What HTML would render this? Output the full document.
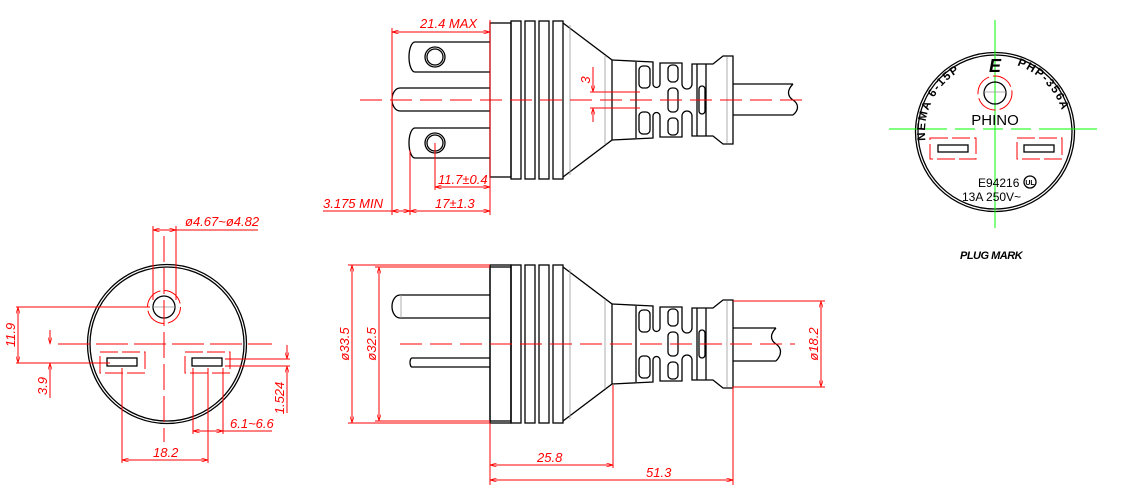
<!DOCTYPE html>
<html><head><meta charset="utf-8"><style>
html,body{margin:0;padding:0;background:#fff}
svg{display:block}
text{font-family:"Liberation Sans",sans-serif}
.r{stroke:#f00;fill:none;stroke-width:1}
.k{stroke:#000;fill:none;stroke-width:1.3}
.g{stroke:#999;stroke-width:0.8;fill:none}
.t{fill:#f00;font-size:13px;font-style:italic}
</style></head><body>
<svg width="1129" height="504" viewBox="0 0 1129 504" xmlns="http://www.w3.org/2000/svg">
<defs>
<marker id="a" viewBox="0 0 10 6" refX="10" refY="3" markerWidth="8" markerHeight="4" orient="auto-start-reverse"><path d="M0,0 L10,3 L0,6" fill="none" stroke="#f00"/></marker>
<g id="body">
 <rect x="490" y="23" width="21" height="154" class="k" fill="#fff"/>
 <rect x="511" y="21" width="10" height="158" class="k"/>
 <rect x="525" y="21" width="10" height="158" class="k"/>
 <rect x="539" y="21" width="10" height="158" class="k"/>
 <rect x="553" y="21" width="10" height="158" class="k"/>
 <path d="M563,23 L612,60 L612,140 L563,177" class="k"/>
 <line x1="570" y1="25" x2="570" y2="175" class="g"/>
 <line x1="605" y1="55" x2="605" y2="145" class="g"/>
 <path d="M612,60 L653,62 L653,84 A3.5,3.5 0 0 0 660,84 L660,63 L682,63 L682,84 A5,5 0 0 0 692,84 L692,64 L713,64 L723,56 L733,56 L733,144 L723,144 L713,136 L692,136 L692,116 A5,5 0 0 0 682,116 L682,137 L660,137 L660,116 A3.5,3.5 0 0 0 653,116 L653,138 L612,140" class="k"/>
 <line x1="636" y1="62" x2="636" y2="138" class="k"/>
 <rect x="639" y="66" width="11" height="22" rx="4" class="k"/>
 <rect x="639" y="112" width="11" height="22" rx="4" class="k"/>
 <rect x="668" y="65" width="10" height="17" rx="4" class="k"/>
 <rect x="668" y="88" width="10" height="24" rx="4" class="k"/>
 <rect x="668" y="118" width="10" height="17" rx="4" class="k"/>
 <line x1="697" y1="64" x2="697" y2="136" class="k"/>
 <line x1="706" y1="64" x2="706" y2="136" class="k"/>
 <rect x="699" y="86" width="6" height="28" rx="3" class="k"/>
 <line x1="727" y1="57" x2="727" y2="143" class="g"/>
</g>
</defs>

<!-- TOP SIDE VIEW -->
<use href="#body"/>
<path d="M490,42 L415,42 A6,15 0 0 0 415,72 L490,72" class="k"/>
<circle cx="435" cy="57" r="10" class="k"/><circle cx="435" cy="57" r="8" class="k"/>
<path d="M490,128 L415,128 A6,15 0 0 0 415,158 L490,158" class="k"/>
<circle cx="435" cy="143" r="10" class="k"/><circle cx="435" cy="143" r="8" class="k"/>
<path d="M490,88 L400,88 A8,11.5 0 0 0 400,111 L490,111" class="k"/>
<path d="M733,84 L793,84 M733,115 L793,115 M793,84 C787,90 787,96 793,100 C799,104 799,110 793,115" class="k"/>
<line x1="360" y1="100" x2="805" y2="100" class="r" stroke-dasharray="22,8"/>
<line x1="392" y1="28" x2="392" y2="215" class="r"/>
<line x1="490" y1="20" x2="490" y2="215" class="r"/>
<line x1="410" y1="150" x2="410" y2="215" class="r"/>
<line x1="392" y1="32" x2="490" y2="32" class="r" marker-start="url(#a)" marker-end="url(#a)"/>
<text x="420" y="28" class="t">21.4  MAX</text>
<line x1="323" y1="211" x2="392" y2="211" class="r"/>
<line x1="392" y1="211" x2="410" y2="211" class="r" marker-start="url(#a)" marker-end="url(#a)"/>
<line x1="410" y1="211" x2="490" y2="211" class="r" marker-start="url(#a)" marker-end="url(#a)"/>
<text x="323" y="208" class="t">3.175  MIN</text>
<text x="435" y="208" class="t">17±1.3</text>
<line x1="435" y1="143" x2="435" y2="190" class="r"/>
<line x1="435" y1="187" x2="490" y2="187" class="r" marker-start="url(#a)" marker-end="url(#a)"/>
<text x="438" y="184" class="t">11.7±0.4</text>
<line x1="593" y1="67" x2="593" y2="92" class="r" marker-end="url(#a)"/>
<line x1="593" y1="122" x2="593" y2="108" class="r" marker-end="url(#a)"/>
<line x1="590" y1="92" x2="640" y2="92" class="r"/>
<line x1="590" y1="108" x2="640" y2="108" class="r"/>
<text transform="translate(590,80) rotate(-90)" class="t" text-anchor="middle">3</text>

<!-- BOTTOM SIDE VIEW -->
<use href="#body" transform="translate(0,244)"/>
<rect x="490" y="265" width="21" height="158" class="k" fill="#fff"/>
<path d="M490,295 L400,295 A8,11.5 0 0 0 400,318 L490,318" class="k"/>
<line x1="401" y1="295" x2="401" y2="318" class="g"/>
<path d="M490,358 L412,358 A2,4.5 0 0 0 412,367 L490,367" class="k"/>
<path d="M733,328 L776,328 M733,361 L776,361 M776,328 C770,334 770,340 776,344 C782,348 782,355 776,361" class="k"/>
<line x1="400" y1="344" x2="795" y2="344" class="r" stroke-dasharray="22,8"/>
<line x1="348" y1="265" x2="490" y2="265" class="r"/>
<line x1="348" y1="423" x2="490" y2="423" class="r"/>
<line x1="375" y1="267" x2="490" y2="267" class="r"/>
<line x1="375" y1="421" x2="490" y2="421" class="r"/>
<line x1="352" y1="265" x2="352" y2="423" class="r" marker-start="url(#a)" marker-end="url(#a)"/>
<line x1="379" y1="267" x2="379" y2="421" class="r" marker-start="url(#a)" marker-end="url(#a)"/>
<text transform="translate(349,344) rotate(-90)" class="t" text-anchor="middle">ø33.5</text>
<text transform="translate(376,344) rotate(-90)" class="t" text-anchor="middle">ø32.5</text>
<line x1="490" y1="423" x2="490" y2="485" class="r"/>
<line x1="613" y1="385" x2="613" y2="468" class="r"/>
<line x1="733" y1="387" x2="733" y2="485" class="r"/>
<line x1="490" y1="465" x2="613" y2="465" class="r" marker-start="url(#a)" marker-end="url(#a)"/>
<line x1="490" y1="480" x2="733" y2="480" class="r" marker-start="url(#a)" marker-end="url(#a)"/>
<text x="537" y="462" class="t">25.8</text>
<text x="646" y="477" class="t">51.3</text>
<line x1="733" y1="301" x2="825" y2="301" class="r"/>
<line x1="733" y1="387" x2="825" y2="387" class="r"/>
<line x1="821" y1="301" x2="821" y2="387" class="r" marker-start="url(#a)" marker-end="url(#a)"/>
<text transform="translate(818,344) rotate(-90)" class="t" text-anchor="middle">ø18.2</text>

<!-- FRONT VIEW -->
<circle cx="167" cy="344" r="79.5" class="k"/>
<circle cx="167" cy="344" r="77" class="k"/>
<circle cx="164" cy="307" r="11" class="k"/>
<line x1="153" y1="307" x2="175" y2="307" class="g"/>
<circle cx="164" cy="307" r="16.5" class="r" stroke-dasharray="22,4"/>
<line x1="164" y1="236" x2="164" y2="442" class="r" stroke-dasharray="26,6"/>
<line x1="58" y1="344" x2="272" y2="344" class="r" stroke-dasharray="32,6"/>
<rect x="100" y="352" width="45" height="21" class="r" stroke-dasharray="18,4"/>
<rect x="107" y="358" width="30" height="8" class="k"/>
<rect x="185" y="352" width="45" height="21" class="r" stroke-dasharray="18,4"/>
<rect x="192" y="358" width="30" height="8" class="k"/>
<line x1="153" y1="226" x2="153" y2="300" class="r"/>
<line x1="176" y1="226" x2="176" y2="300" class="r"/>
<line x1="153" y1="230" x2="176" y2="230" class="r" marker-start="url(#a)" marker-end="url(#a)"/>
<line x1="176" y1="230" x2="258" y2="230" class="r"/>
<text x="185" y="226" class="t">ø4.67~ø4.82</text>
<line x1="16" y1="307" x2="150" y2="307" class="r"/>
<line x1="16" y1="363" x2="110" y2="363" class="r"/>
<line x1="18" y1="307" x2="18" y2="363" class="r" marker-start="url(#a)" marker-end="url(#a)"/>
<text transform="translate(15,335) rotate(-90)" class="t" text-anchor="middle">11.9</text>
<line x1="50" y1="330" x2="50" y2="344" class="r" marker-end="url(#a)"/>
<line x1="50" y1="398" x2="50" y2="363" class="r" marker-end="url(#a)"/>
<text transform="translate(47,386) rotate(-90)" class="t" text-anchor="middle">3.9</text>
<line x1="225" y1="359" x2="290" y2="359" class="r"/>
<line x1="225" y1="366" x2="290" y2="366" class="r"/>
<line x1="287" y1="345" x2="287" y2="359" class="r" marker-end="url(#a)"/>
<line x1="287" y1="413" x2="287" y2="366" class="r" marker-end="url(#a)"/>
<text transform="translate(284,398) rotate(-90)" class="t" text-anchor="middle">1.524</text>
<line x1="193" y1="368" x2="193" y2="434" class="r"/>
<line x1="223" y1="368" x2="223" y2="434" class="r"/>
<line x1="193" y1="431" x2="223" y2="431" class="r" marker-start="url(#a)" marker-end="url(#a)"/>
<line x1="223" y1="431" x2="272" y2="431" class="r"/>
<text x="230" y="428" class="t">6.1~6.6</text>
<line x1="122" y1="368" x2="122" y2="463" class="r"/>
<line x1="208" y1="368" x2="208" y2="463" class="r"/>
<line x1="122" y1="460" x2="208" y2="460" class="r" marker-start="url(#a)" marker-end="url(#a)"/>
<text x="153" y="457" class="t">18.2</text>

<!-- PLUG MARK -->
<path id="arcL" d="M925.5,140.5 A70,70 0 0 1 973,65.4" fill="none"/>
<path id="arcR" d="M1017,65.4 A70,70 0 0 1 1065,138" fill="none"/>
<circle cx="995" cy="132" r="79.5" class="k"/>
<circle cx="995" cy="132" r="77" class="k"/>
<line x1="995" y1="20" x2="995" y2="228" stroke="#0f0" stroke-width="1"/>
<line x1="889" y1="129" x2="1102" y2="129" stroke="#0f0" stroke-width="1" stroke-dasharray="58,8,20,8,20,8,20,8,58"/>
<circle cx="995" cy="93" r="11" class="k"/>
<line x1="984" y1="92" x2="1006" y2="92" class="g"/>
<circle cx="995" cy="93" r="17" class="r" stroke-dasharray="22,4"/>
<text font-family="Liberation Serif,serif" font-weight="bold" font-size="11.5" letter-spacing="1.5"><textPath href="#arcL">NEMA 6-15P</textPath></text>
<text font-family="Liberation Serif,serif" font-weight="bold" font-size="11.5" letter-spacing="1.5"><textPath href="#arcR">PHP-356A</textPath></text>
<text x="995" y="72" font-family="Liberation Serif,serif" font-weight="bold" font-style="italic" font-size="18" text-anchor="middle">E</text>
<text x="995" y="125" font-size="15" text-anchor="middle">PHINO</text>
<rect x="930" y="138" width="46" height="21" class="r" stroke-dasharray="18,4"/>
<rect x="938" y="145" width="30" height="7" class="k"/>
<rect x="1017" y="138" width="45" height="21" class="r" stroke-dasharray="18,4"/>
<rect x="1024" y="145" width="30" height="7" class="k"/>
<text x="978" y="187" font-size="12">E94216</text>
<circle cx="1030" cy="182" r="6" class="k"/>
<text x="1030" y="185" font-size="7" text-anchor="middle" font-weight="bold">UL</text>
<text x="962" y="201" font-size="12">13A 250V~</text>
<text x="960" y="259" font-size="11" font-weight="bold" font-style="italic" letter-spacing="-0.5">PLUG MARK</text>
</svg>
</body></html>
